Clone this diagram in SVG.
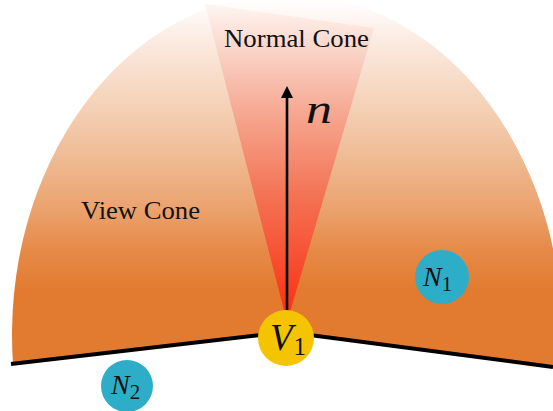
<svg xmlns="http://www.w3.org/2000/svg" width="553" height="411" viewBox="0 0 553 411">
  <defs>
    <linearGradient id="gView" gradientUnits="userSpaceOnUse" x1="0" y1="0" x2="0" y2="290">
      <stop offset="0" stop-color="#FFFFFF"/>
      <stop offset="0.14" stop-color="#FBEBE1"/>
      <stop offset="0.35" stop-color="#F5D3BA"/>
      <stop offset="0.55" stop-color="#EFBA92"/>
      <stop offset="0.72" stop-color="#EBA26E"/>
      <stop offset="0.86" stop-color="#E68A48"/>
      <stop offset="1" stop-color="#E27B30"/>
    </linearGradient>
    <linearGradient id="gNormal" gradientUnits="userSpaceOnUse" x1="0" y1="0" x2="0" y2="320">
      <stop offset="0" stop-color="#FFF8F5"/>
      <stop offset="0.15" stop-color="#FAD6CA"/>
      <stop offset="0.35" stop-color="#F6A892"/>
      <stop offset="0.6" stop-color="#F37556"/>
      <stop offset="0.85" stop-color="#F8482A"/>
      <stop offset="1" stop-color="#FF2C10"/>
    </linearGradient>
    <marker id="arrow" markerWidth="12" markerHeight="12" refX="1" refY="6" orient="auto" markerUnits="userSpaceOnUse">
      <path d="M0,0 L12,6 L0,12 Z" fill="#000"/>
    </marker>
    <style>
      .node-blue { fill: #2EADC9; }
      .node-yellow { fill: #F4C400; }
      .label { font-family: "Liberation Serif", "Times New Roman", serif; fill: #111; }
      .math { font-family: "Liberation Serif", "Times New Roman", serif; font-style: italic; fill: #111; }
      .edge { fill: none; stroke: #000; stroke-width: 4; }
    </style>
  </defs>

  <g id="view-cone">
    <path d="M13,364 A275 341 0 1 1 561,364 L561,368 L287,332 Z" fill="url(#gView)"/>
    <text class="label" x="81" y="219" font-size="25.5" textLength="119" lengthAdjust="spacingAndGlyphs">View Cone</text>
  </g>

  <g id="normal-cone">
    <polygon points="287,322 205,4 374,28" fill="url(#gNormal)"/>
    <text class="label" x="224" y="47" font-size="25.5" textLength="145" lengthAdjust="spacingAndGlyphs">Normal Cone</text>
  </g>

  <g id="connectors">
    <polyline class="edge" points="11,364 287,332 553,367"/>
    <line x1="287" y1="312" x2="287" y2="97" stroke="#000" stroke-width="2.6" marker-end="url(#arrow)"/>
    <text class="math" x="306" y="123" font-size="40" textLength="26" lengthAdjust="spacingAndGlyphs">n</text>
  </g>

  <g id="V1">
    <circle class="node-yellow" cx="286" cy="338" r="28"/>
    <text class="math" x="270" y="350" font-size="37">V<tspan font-style="normal" font-size="25" dx="1" dy="5">1</tspan></text>
  </g>

  <g id="N1">
    <circle class="node-blue" cx="442" cy="277" r="27"/>
    <text class="math" x="423" y="286" font-size="28">N<tspan font-style="normal" font-size="21" dx="0" dy="5">1</tspan></text>
  </g>

  <g id="N2">
    <circle class="node-blue" cx="127" cy="386" r="26"/>
    <text class="math" x="111" y="394" font-size="28">N<tspan font-style="normal" font-size="21" dx="0" dy="5">2</tspan></text>
  </g>
</svg>
